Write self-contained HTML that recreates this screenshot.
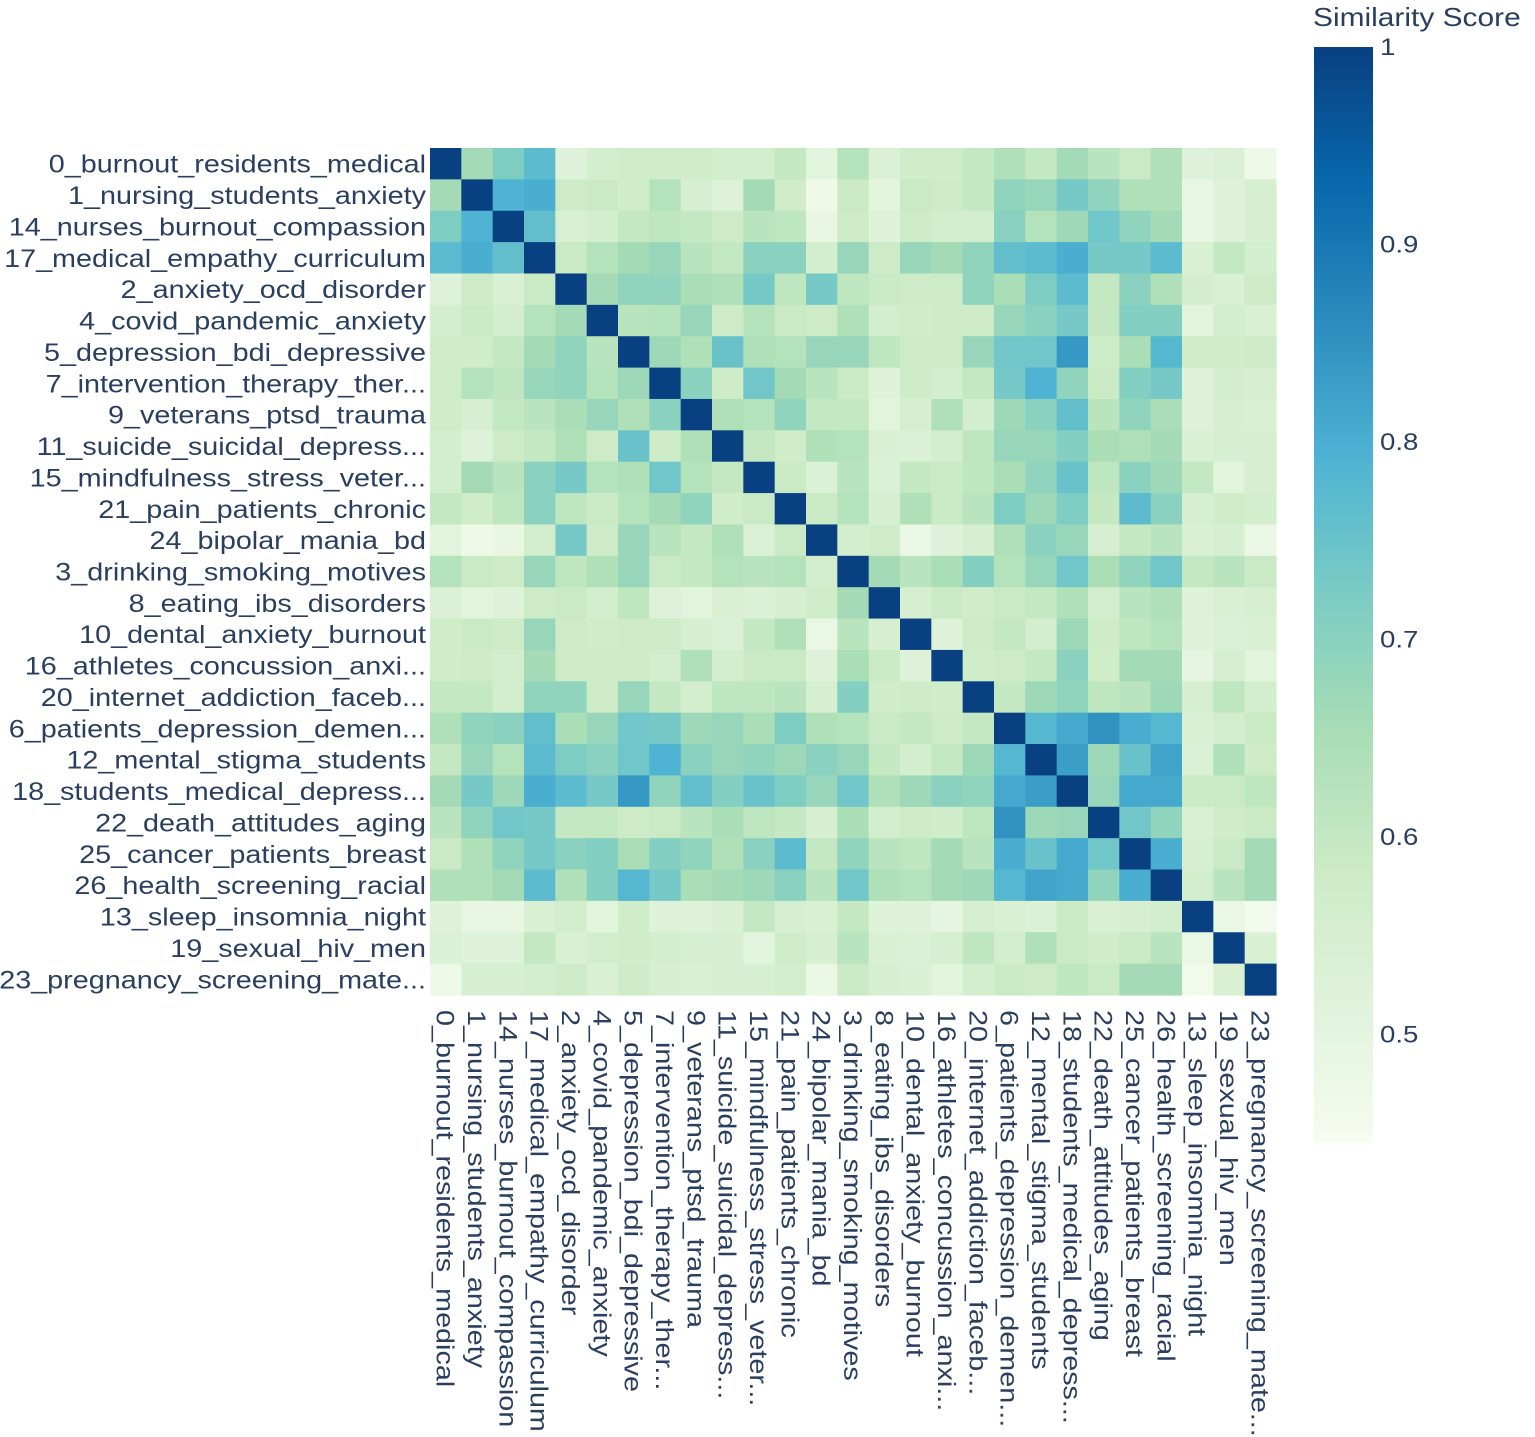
<!DOCTYPE html>
<html><head><meta charset="utf-8"><style>
html,body{margin:0;padding:0;background:#fff;}
svg{display:block;font-family:"Liberation Sans","DejaVu Sans",sans-serif;}
</style></head><body>
<svg id="chart" width="1535" height="1437" viewBox="0 0 1535 1437" xmlns="http://www.w3.org/2000/svg">
<defs><linearGradient id="gnbu" x1="0" y1="1" x2="0" y2="0">
<stop offset="0" stop-color="rgb(247,252,240)"/><stop offset="0.125" stop-color="rgb(224,243,219)"/><stop offset="0.25" stop-color="rgb(204,235,197)"/><stop offset="0.375" stop-color="rgb(168,221,181)"/><stop offset="0.5" stop-color="rgb(123,204,196)"/><stop offset="0.625" stop-color="rgb(78,179,211)"/><stop offset="0.75" stop-color="rgb(43,140,190)"/><stop offset="0.875" stop-color="rgb(8,104,172)"/><stop offset="1" stop-color="rgb(8,64,129)"/></linearGradient></defs>
<g id="cells"></g>
<g id="ylabels"></g>
<g id="xlabels"></g>
<g id="cbar">
<rect x="1314" y="47" width="59" height="1096" fill="url(#gnbu)"/>
<text class="st" x="1313" y="26" font-size="26" fill="#2a3f5f">Similarity Score</text>
</g>
</svg>
<script>
const labels = ["0_burnout_residents_medical","1_nursing_students_anxiety","14_nurses_burnout_compassion","17_medical_empathy_curriculum","2_anxiety_ocd_disorder","4_covid_pandemic_anxiety","5_depression_bdi_depressive","7_intervention_therapy_ther...","9_veterans_ptsd_trauma","11_suicide_suicidal_depress...","15_mindfulness_stress_veter...","21_pain_patients_chronic","24_bipolar_mania_bd","3_drinking_smoking_motives","8_eating_ibs_disorders","10_dental_anxiety_burnout","16_athletes_concussion_anxi...","20_internet_addiction_faceb...","6_patients_depression_demen...","12_mental_stigma_students","18_students_medical_depress...","22_death_attitudes_aging","25_cancer_patients_breast","26_health_screening_racial","13_sleep_insomnia_night","19_sexual_hiv_men","23_pregnancy_screening_mate..."];
// upper triangle rows (values for columns i+1..26)
const upper = [
[0.66,0.72,0.77,0.52,0.56,0.57,0.57,0.57,0.56,0.56,0.60,0.51,0.63,0.53,0.57,0.57,0.60,0.64,0.60,0.66,0.62,0.59,0.64,0.52,0.53,0.47],
[0.79,0.80,0.58,0.59,0.57,0.63,0.55,0.52,0.66,0.57,0.47,0.59,0.51,0.59,0.58,0.60,0.69,0.68,0.73,0.69,0.64,0.64,0.49,0.52,0.55],
[0.76,0.54,0.56,0.60,0.61,0.60,0.58,0.62,0.61,0.49,0.58,0.52,0.58,0.56,0.56,0.70,0.63,0.67,0.74,0.69,0.66,0.49,0.52,0.55],
[0.59,0.63,0.66,0.68,0.62,0.60,0.70,0.70,0.56,0.68,0.58,0.68,0.66,0.69,0.76,0.77,0.80,0.73,0.73,0.77,0.54,0.60,0.56],
[0.66,0.69,0.69,0.65,0.64,0.73,0.61,0.73,0.61,0.59,0.58,0.58,0.69,0.65,0.72,0.77,0.60,0.70,0.64,0.56,0.54,0.58],
[0.62,0.63,0.68,0.58,0.63,0.59,0.58,0.64,0.56,0.57,0.58,0.58,0.68,0.70,0.73,0.60,0.71,0.71,0.51,0.56,0.54],
[0.67,0.64,0.75,0.64,0.63,0.68,0.68,0.61,0.58,0.58,0.68,0.74,0.74,0.84,0.58,0.65,0.78,0.57,0.57,0.58],
[0.70,0.58,0.74,0.66,0.62,0.59,0.52,0.58,0.56,0.60,0.73,0.79,0.69,0.59,0.71,0.73,0.52,0.56,0.55],
[0.64,0.63,0.69,0.60,0.60,0.51,0.55,0.64,0.56,0.67,0.70,0.76,0.62,0.69,0.65,0.52,0.55,0.54],
[0.60,0.57,0.64,0.63,0.54,0.53,0.56,0.61,0.68,0.68,0.71,0.65,0.64,0.66,0.54,0.55,0.55],
[0.59,0.53,0.62,0.53,0.60,0.59,0.61,0.65,0.69,0.75,0.61,0.70,0.67,0.60,0.51,0.55],
[0.59,0.63,0.55,0.64,0.59,0.62,0.72,0.67,0.72,0.60,0.77,0.70,0.55,0.57,0.56],
[0.56,0.57,0.48,0.52,0.55,0.64,0.70,0.68,0.55,0.60,0.62,0.54,0.55,0.48],
[0.66,0.62,0.65,0.71,0.63,0.68,0.74,0.65,0.69,0.74,0.60,0.62,0.59],
[0.55,0.59,0.57,0.59,0.60,0.64,0.56,0.62,0.64,0.52,0.54,0.55],
[0.52,0.58,0.60,0.56,0.67,0.58,0.61,0.63,0.52,0.53,0.54],
[0.57,0.58,0.60,0.70,0.57,0.66,0.66,0.50,0.55,0.51],
[0.60,0.67,0.69,0.61,0.62,0.67,0.55,0.61,0.56],
[0.78,0.81,0.85,0.80,0.78,0.54,0.56,0.59],
[0.83,0.67,0.75,0.82,0.53,0.64,0.58],
[0.68,0.81,0.81,0.59,0.59,0.61],
[0.74,0.69,0.54,0.57,0.59],
[0.80,0.55,0.59,0.66],
[0.56,0.62,0.66],
[0.48,0.46],
[0.54]
];
const cbTickVals = [0.5,0.6,0.7,0.8,0.9,1];
const cbTickLabels = ["0.5","0.6","0.7","0.8","0.9","1"];

const NS="http://www.w3.org/2000/svg";
const X0=430, Y0=148, W=846, H=847, N=labels.length;
const cw=W/N, ch=H/N;
const zmin=0.445, zmax=1;
const stops=[[0,[247,252,240]],[0.125,[224,243,219]],[0.25,[204,235,197]],[0.375,[168,221,181]],[0.5,[123,204,196]],[0.625,[78,179,211]],[0.75,[43,140,190]],[0.875,[8,104,172]],[1,[8,64,129]]];
function color(v){let t=Math.max(0,Math.min(1,(v-zmin)/(zmax-zmin)));for(let k=1;k<stops.length;k++){if(t<=stops[k][0]){const a=stops[k-1],b=stops[k];const f=(t-a[0])/(b[0]-a[0]);const c=a[1].map((x,i)=>Math.round(x+(b[1][i]-x)*f));return `rgb(${c[0]},${c[1]},${c[2]})`;}}return 'rgb(8,64,129)';}
function xPos(j){return X0+j*cw;}
function yPos(i){return Y0+i*ch;}
function cbY(v){return 47+(zmax-v)/(zmax-zmin)*1096;}
function val(i,j){if(i===j)return 1;if(i<j)return upper[i][j-i-1];return upper[j][i-j-1];}
const gc=document.getElementById('cells');
for(let i=0;i<N;i++)for(let j=0;j<N;j++){
 const r=document.createElementNS(NS,'rect');
 
 
 r.setAttribute('x',xPos(j).toFixed(2));r.setAttribute('y',yPos(i).toFixed(2));
 r.setAttribute('width',(cw+0.6).toFixed(2));r.setAttribute('height',(ch+0.6).toFixed(2));
 r.setAttribute('fill',color(val(i,j)));gc.appendChild(r);
}
const gy=document.getElementById('ylabels'), gx=document.getElementById('xlabels');
labels.forEach((l,i)=>{
 const t=document.createElementNS(NS,'text');
 
 
 t.setAttribute('class','st');
 t.setAttribute('x',426);t.setAttribute('y',(yPos(i)+ch/2+9).toFixed(1));
 t.setAttribute('text-anchor','end');t.setAttribute('font-size','25');t.setAttribute('fill','#2a3f5f');
 t.textContent=l;gy.appendChild(t);
 const u=document.createElementNS(NS,'text');
 
 
 u.setAttribute('class','st');
 const cx=xPos(i)+cw/2-9;
 u.setAttribute('transform',`translate(${cx.toFixed(1)},1010) rotate(90)`);
 u.setAttribute('font-size','25');u.setAttribute('fill','#2a3f5f');
 u.textContent=l;gx.appendChild(u);
});
const gcb=document.getElementById('cbar');
cbTickVals.forEach((v,k)=>{
 const t=document.createElementNS(NS,'text');
 
 
 t.setAttribute('class','st');
 t.setAttribute('x',1380);t.setAttribute('y',(cbY(v)+8).toFixed(1));
 t.setAttribute('font-size','24');t.setAttribute('fill','#2a3f5f');
 t.textContent=cbTickLabels[k];gcb.appendChild(t);
});
document.querySelectorAll('text.st').forEach(t=>{
 const w=t.getComputedTextLength();
 t.setAttribute('textLength',(w*1.15).toFixed(1));
 t.setAttribute('lengthAdjust','spacingAndGlyphs');
});
</script>
</body></html>
